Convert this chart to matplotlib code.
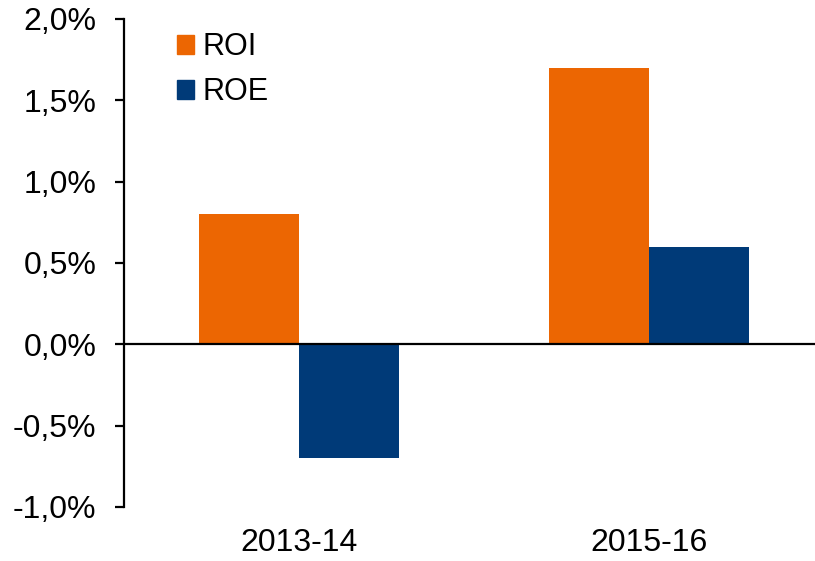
import numpy as np
import matplotlib.pyplot as plt
from matplotlib.patches import Patch
from matplotlib.ticker import FuncFormatter

plt.rcParams["font.family"] = ["Liberation Sans", "DejaVu Sans"]

categories = ["2013-14", "2015-16"]
roi = [0.8, 1.7]
roe = [-0.7, 0.6]

ORANGE = "#EC6602"
NAVY = "#003A78"

W, H = 815, 561
fig = plt.figure(figsize=(W / 100, H / 100), dpi=100)
# axes box in pixel coords: left 124, right 815, top 19, bottom 507
ax = fig.add_axes([124 / W, 1 - 507 / H, (815 - 124) / W, (507 - 19) / H])

x = np.arange(len(categories))
bw = 100 / 350
ax.bar(x - bw / 2, roi, width=bw, color=ORANGE, zorder=2)
ax.bar(x + bw / 2, roe, width=bw, color=NAVY, zorder=2)

ax.axhline(0, color="black", linewidth=1.6, zorder=3)

ax.set_xlim(-0.5, (815 - 299) / 350)
ax.set_ylim(-1.0, 2.0)
ax.set_yticks(np.arange(-1.0, 2.01, 0.5))
ax.yaxis.set_major_formatter(FuncFormatter(lambda v, p: f"{v:.1f}%".replace(".", ",")))
ax.set_xticks(x)
ax.set_xticklabels(categories)

for s in ["top", "right", "bottom"]:
    ax.spines[s].set_visible(False)
ax.spines["left"].set_linewidth(1.6)
ax.tick_params(axis="y", length=6.5, width=1.6, pad=13.5, labelsize=23)
ax.tick_params(axis="x", length=0, pad=15, labelsize=23)

handles = [Patch(color=ORANGE, label="ROI"), Patch(color=NAVY, label="ROE")]
ax.legend(handles=handles, loc="upper left", bbox_to_anchor=(177 / W, 1 - 32 / H),
          bbox_transform=fig.transFigure, frameon=False, fontsize=22,
          handlelength=0.56, handleheight=0.56, handletextpad=0.28,
          labelspacing=0.5, borderaxespad=0, borderpad=0)

fig.savefig("out.png", dpi=100)
